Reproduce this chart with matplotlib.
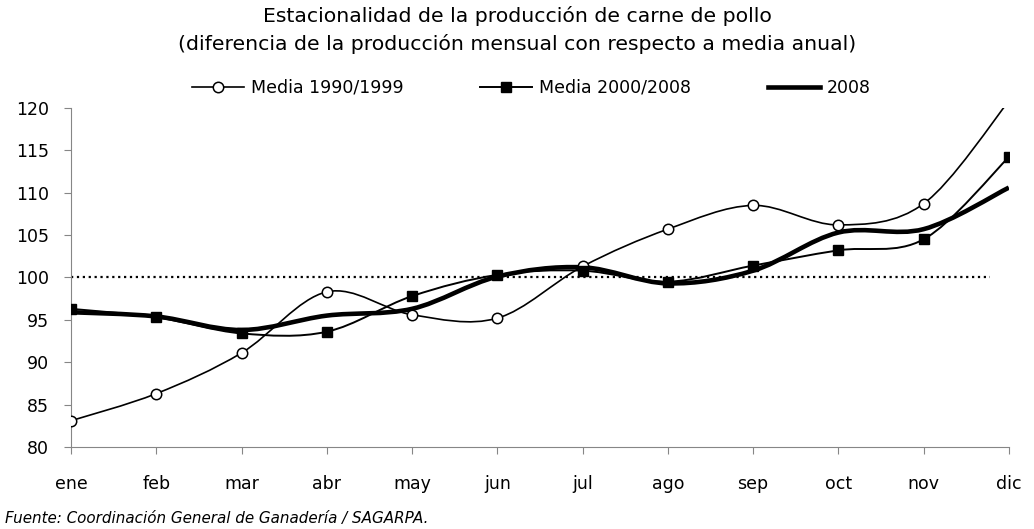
#!/usr/bin/env python3

import matplotlib.pyplot as plt
from matplotlib.path import Path
from matplotlib.patches import PathPatch
from matplotlib.lines import Line2D

months = ['ene', 'feb', 'mar', 'abr', 'may', 'jun', 'jul', 'ago', 'sep', 'oct', 'nov', 'dic']
media_1990_1999 = [83.1, 86.3, 91.1, 98.3, 95.6, 95.2, 101.3, 105.7, 108.5, 106.2, 108.7, 120.8]
media_2000_2008 = [96.3, 95.3, 93.4, 93.6, 97.8, 100.3, 100.8, 99.5, 101.4, 103.2, 104.5, 114.2]
serie_2008 = [95.9, 95.4, 93.8, 95.5, 96.3, 100.1, 101.2, 99.3, 100.8, 105.3, 105.7, 110.6]
labels = ['Media 1990/1999', 'Media 2000/2008', '2008']


def smooth_path(xs, ys):
    # bezier segments similar to Excel's smoothed lines
    pts = list(zip(xs, ys))
    n = len(pts)
    verts = [pts[0]]
    codes = [Path.MOVETO]
    for i in range(n - 1):
        p0 = pts[max(i - 1, 0)]
        p1 = pts[i]
        p2 = pts[i + 1]
        p3 = pts[min(i + 2, n - 1)]
        c1 = (p1[0] + (p2[0] - p0[0]) / 6, p1[1] + (p2[1] - p0[1]) / 6)
        c2 = (p2[0] - (p3[0] - p1[0]) / 6, p2[1] - (p3[1] - p1[1]) / 6)
        verts += [c1, c2, p2]
        codes += [Path.CURVE4] * 3
    return Path(verts, codes)


def main():
    plt.rcParams['font.family'] = ['DejaVu Sans']
    fig = plt.figure(figsize=(10.34, 5.29), dpi=100)
    ax = fig.add_axes([0.0687, 0.155, 0.907, 0.641])

    x = list(range(len(months)))
    ax.axhline(100, xmin=0, xmax=0.98, color='black', linestyle=':', linewidth=1.6)

    styles = [
        (media_1990_1999, 1.2, dict(marker='o', markersize=7.5, markerfacecolor='white', markeredgewidth=1.1)),
        (media_2000_2008, 1.4, dict(marker='s', markersize=7, markerfacecolor='black')),
        (serie_2008, 3.3, dict()),
    ]
    handles = []
    for (vals, lw, mk), label in zip(styles, labels):
        ax.add_patch(PathPatch(smooth_path(x, vals), facecolor='none', edgecolor='black', linewidth=lw, zorder=3))
        if mk:
            ax.plot(x, vals, linestyle='none', color='black', zorder=4, **mk)
        handles.append(Line2D([0], [0], color='black', linewidth=lw, **mk))

    ax.set_xlim(0, len(months) - 1)
    ax.set_ylim(80, 120)
    ax.set_yticks(range(80, 121, 5))
    ax.set_xticks(x)
    ax.set_xticklabels(months)
    for side in ['top', 'right']:
        ax.spines[side].set_visible(False)
    for side in ['left', 'bottom']:
        ax.spines[side].set_color('#868686')
    ax.tick_params(colors='#868686', labelcolor='black', labelsize=12.5, length=5)
    ax.tick_params(axis='x', pad=15)
    ax.tick_params(axis='y', pad=11)

    fig.text(0.5, 0.988, 'Estacionalidad de la producción de carne de pollo\n'
             '(diferencia de la producción mensual con respecto a media anual)',
             ha='center', va='top', fontsize=14.7, linespacing=1.45)
    fig.legend(handles, labels, loc='center', bbox_to_anchor=(0.514, 0.834), ncol=3, frameon=False,
               fontsize=12.5, handlelength=3.0, handletextpad=0.4, columnspacing=4.4)
    fig.text(0.005, 0.005, 'Fuente: Coordinación General de Ganadería / SAGARPA.',
             fontsize=10.9, style='italic', ha='left', va='bottom')

    plt.savefig('out.png', dpi=100)


if __name__ == '__main__':
    main()
